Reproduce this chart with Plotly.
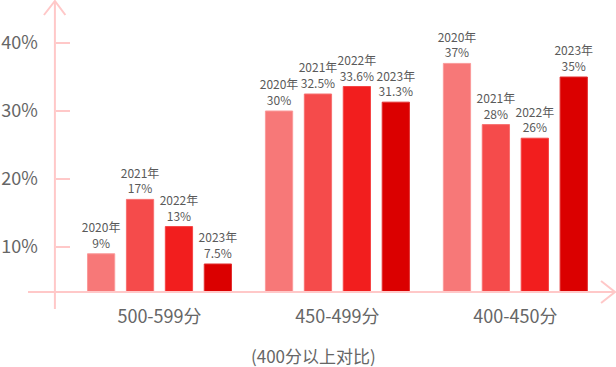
import plotly.graph_objects as go

categories = ["500-599分", "450-499分", "400-450分"]
years = ["2020年", "2021年", "2022年", "2023年"]
values_2020 = [9, 30, 37]
values_2021 = [17, 32.5, 28]
values_2022 = [13, 33.6, 26]
values_2023 = [7.5, 31.3, 35]
label_2020 = ["9%", "30%", "37%"]
label_2021 = ["17%", "32.5%", "28%"]
label_2022 = ["13%", "33.6%", "26%"]
label_2023 = ["7.5%", "31.3%", "35%"]
y_ticks = [10, 20, 30, 40]
y_tick_text = ["10%", "20%", "30%", "40%"]
subtitle = "(400分以上对比)"

series = [values_2020, values_2021, values_2022, values_2023]
labels = [label_2020, label_2021, label_2022, label_2023]
colors = ["#F77878", "#F54B4B", "#F21E1E", "#DB0000"]
borders = ["#FA9A9A", "#F77070", "#F54545", "#E23030"]

W, H = 616, 367
L, R, T, B = 26, 1, 1, 75
PW, PH = W - L - R, H - T - B
AX = "#FFC8C8"
FONT = "Noto Sans CJK SC, Noto Sans, sans-serif"


def px(x):
    return (x - L) / PW


def py(y):
    return (H - B - y) / PH


fig = go.Figure()
for yr, vals, labs, c, bc in zip(years, series, labels, colors, borders):
    fig.add_trace(go.Bar(
        x=categories, y=vals, name=yr,
        marker=dict(color=c, line=dict(color=bc, width=1)),
        text=[f"{yr}<br>{l}" for l in labs],
        textposition="outside", textangle=0, constraintext="none",
        cliponaxis=False,
        textfont=dict(size=12, color="#5A5A5A", family=FONT),
        hoverinfo="skip",
    ))

yaxis_x = px(53)
shapes = [
    dict(type="line", xref="paper", yref="paper", x0=yaxis_x, x1=yaxis_x,
         y0=py(309), y1=py(1), line=dict(color=AX, width=2)),
    dict(type="line", xref="paper", yref="paper", x0=px(26), x1=px(615),
         y0=py(292), y1=py(292), line=dict(color=AX, width=2)),
    dict(type="path", xref="paper", yref="paper",
         path=f"M {px(42)},{py(15)} L {yaxis_x},{py(1)} L {px(63.5)},{py(15)}",
         line=dict(color=AX, width=2)),
    dict(type="path", xref="paper", yref="paper",
         path=f"M {px(601)},{py(281)} L {px(615)},{py(292)} L {px(601)},{py(303)}",
         line=dict(color=AX, width=2)),
]

fig.update_layout(
    width=W, height=H,
    margin=dict(l=L, r=R, t=T, b=B, pad=0),
    paper_bgcolor="white", plot_bgcolor="white",
    barmode="group", bargap=0.125, bargroupgap=0.30,
    showlegend=False,
    font=dict(family=FONT, color="#666666"),
    xaxis=dict(
        type="category", range=[-0.739, 2.56],
        showgrid=False, showline=False, zeroline=False, ticks="",
        tickfont=dict(size=18, color="#666666"),
        ticklabelstandoff=12,
    ),
    yaxis=dict(
        range=[3.38, 46.18], anchor="free", position=yaxis_x,
        showgrid=False, zeroline=False, showline=False,
        tickvals=y_ticks, ticktext=y_tick_text,
        ticks="inside", ticklen=14, tickwidth=2, tickcolor=AX,
        tickfont=dict(size=18, color="#666666"),
        ticklabelstandoff=17,
    ),
    shapes=shapes,
    annotations=[dict(
        text=subtitle, xref="paper", yref="paper", x=px(312), y=py(355),
        xanchor="center", yanchor="middle", showarrow=False,
        font=dict(size=17, color="#666666", family=FONT),
    )],
)

fig.write_html("out.html", config={"displayModeBar": False},
               post_script="document.body.style.margin='0';document.body.style.padding='0';")
